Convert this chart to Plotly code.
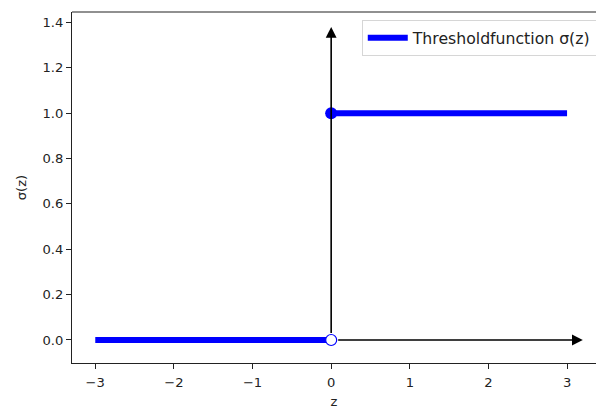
import plotly.graph_objects as go

# Threshold (Heaviside) step function sampled on both sides of z = 0
z_neg = [-3, 0]
sigma_neg = [0, 0]
z_pos = [0, 3]
sigma_pos = [1, 1]

# Jump point: open circle at the bottom, closed circle at the top
z_jump = [0]
sigma_open = [0]
sigma_closed = [1]

# Coordinate-axis arrows drawn through the origin
axis_arrow_z = 3.2
axis_arrow_sigma = 1.38

x_ticks = [-3, -2, -1, 0, 1, 2, 3]
y_ticks = [0.0, 0.2, 0.4, 0.6, 0.8, 1.0, 1.2, 1.4]

FONT = "DejaVu Sans"
FS = 13.1
LEG_FS = 15.7
BLUE = "#0000ff"
INK = "#222222"

fig = go.Figure()

fig.add_trace(go.Scatter(
    x=z_neg, y=sigma_neg, mode="lines",
    line=dict(color=BLUE, width=6),
    name="Thresholdfunction σ(z)", legendgroup="step", showlegend=True,
))
fig.add_trace(go.Scatter(
    x=z_pos, y=sigma_pos, mode="lines",
    line=dict(color=BLUE, width=6),
    name="Thresholdfunction σ(z)", legendgroup="step", showlegend=False,
))

# axis arrows (shafts start just outside the open circle)
for tip_x, tip_y in [(axis_arrow_z, 0), (0, axis_arrow_sigma)]:
    fig.add_annotation(
        x=tip_x, y=tip_y, ax=0, ay=0, xref="x", yref="y", axref="x", ayref="y",
        showarrow=True, arrowhead=2, arrowsize=1.35, arrowwidth=1.6, arrowcolor="black",
        startstandoff=5.5, text="",
    )

fig.add_trace(go.Scatter(
    x=z_jump, y=sigma_closed, mode="markers",
    marker=dict(size=12, color=BLUE, line=dict(width=0)),
    showlegend=False,
))
fig.add_trace(go.Scatter(
    x=z_jump, y=sigma_open, mode="markers",
    marker=dict(size=11, color="white", line=dict(width=1.2, color=BLUE)),
    showlegend=False,
))

# top frame line (the right edge of the frame lies outside the figure)
fig.add_shape(type="line", xref="paper", yref="paper", x0=0, x1=1, y0=1, y1=1,
              line=dict(color=INK, width=1.1))

axis_common = dict(
    showgrid=False, zeroline=False, showline=True, linecolor=INK, linewidth=1.1,
    ticks="outside", ticklen=5, tickwidth=1.1, tickcolor=INK, mirror=False,
    tickfont=dict(family=FONT, size=FS, color=INK),
)

fig.update_layout(
    width=596, height=409,
    margin=dict(l=72, r=0, t=12, b=46, pad=0, autoexpand=False),
    plot_bgcolor="white", paper_bgcolor="white",
    font=dict(family=FONT, size=FS, color=INK),
    xaxis=dict(
        range=[-3.296, 3.368], tickvals=x_ticks, ticklabelstandoff=2,
        title=dict(text="z", standoff=11, font=dict(family=FONT, size=FS)),
        **axis_common,
    ),
    yaxis=dict(
        range=[-0.1015, 1.446], tickvals=y_ticks, tickformat=".1f",
        title=dict(text="σ(z)", standoff=12, font=dict(family=FONT, size=FS)),
        **axis_common,
    ),
    legend=dict(
        x=0.553, y=0.977, xanchor="left", yanchor="top",
        bgcolor="rgba(255,255,255,0.8)", bordercolor="#d6d6d6", borderwidth=1,
        font=dict(family=FONT, size=LEG_FS, color=INK),
        itemwidth=40,
    ),
)

fig.write_html("out.html", config={"displayModeBar": False})
